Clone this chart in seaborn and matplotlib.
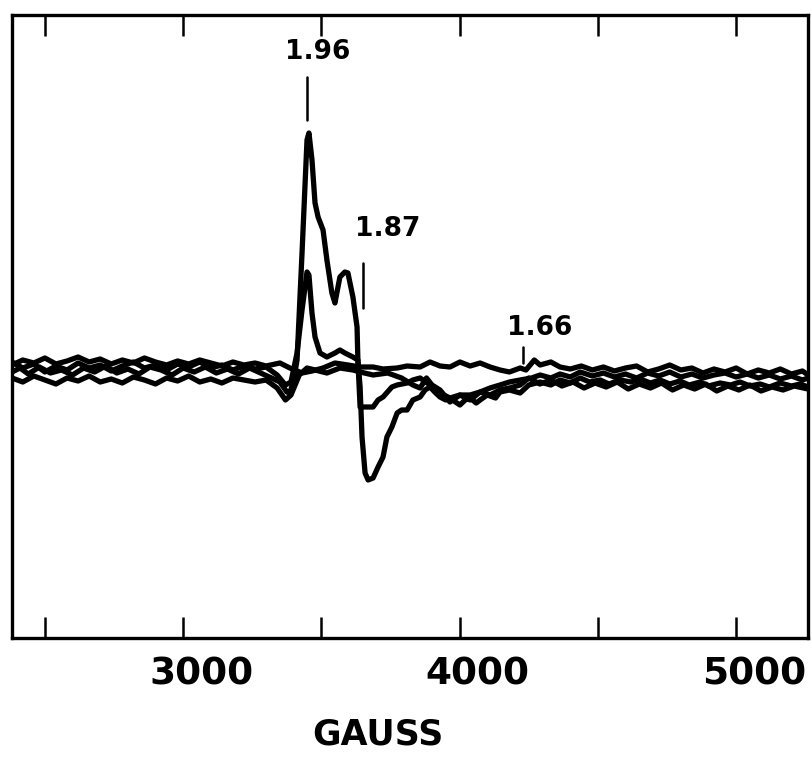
import matplotlib
matplotlib.use("Agg")
import matplotlib.pyplot as plt
import seaborn as sns
import pandas as pd

# ---- data (field in gauss, signal in arbitrary units, baseline = 0) ----
big_g = [2381, 2410, 2440, 2480, 2520, 2560, 2600, 2640, 2680, 2720, 2760, 2800, 2840, 2880,
         2920, 2960, 3000, 3040, 3080, 3120, 3160, 3200, 3240, 3280, 3320, 3350, 3375, 3386,
         3400, 3412, 3430, 3448, 3455, 3466, 3477, 3488, 3506, 3520, 3538, 3549, 3567, 3585,
         3596, 3614, 3629, 3632, 3640, 3647, 3658, 3669, 3687, 3705, 3723, 3737, 3755, 3774,
         3790, 3810, 3831, 3857, 3875, 3893, 3910, 3929, 3950, 3965, 3985, 4001, 4020, 4038,
         4060, 4074, 4100, 4130, 4146, 4180, 4219, 4250, 4291, 4330, 4363, 4400, 4436, 4470,
         4508, 4540, 4580, 4620, 4653, 4690, 4725, 4760, 4797, 4830, 4870, 4900, 4942, 4980,
         5014, 5050, 5087, 5120, 5159, 5200, 5232, 5260]
big_y = [-2, 2, -4, 3, -3, 0, -5, 2, -2, 4, -3, 1, -4, 3,
         0, -5, 2, -2, 3, -3, 1, -4, 2, -3, -8, -12, -22, -23,
         -10, 10, 117, 230, 237, 210, 167, 153, 140, 110, 77, 67, 93, 98,
         97, 73, 43, 10, -17, -67, -103, -110, -108, -97, -87, -67, -57, -43,
         -40, -40, -30, -27, -20, -17, -22, -27, -30, -28, -32, -35, -30, -28,
         -33, -30, -25, -28, -22, -20, -23, -15, -12, -15, -10, -13, -8, -12,
         -10, -14, -10, -12, -9, -13, -10, -14, -11, -15, -12, -16, -13, -15,
         -12, -16, -14, -17, -13, -16, -14, -17]

mid_g = [2381, 2420, 2460, 2500, 2540, 2580, 2620, 2660, 2700, 2740, 2780, 2820, 2860, 2900,
         2940, 2980, 3020, 3060, 3100, 3140, 3180, 3220, 3260, 3300, 3340, 3370, 3390, 3412,
         3430, 3448, 3455, 3466, 3477, 3495, 3520, 3549, 3567, 3585, 3614, 3632, 3640, 3658,
         3687, 3705, 3723, 3755, 3774, 3810, 3831, 3857, 3893, 3929, 3965, 4001, 4038, 4074,
         4110, 4146, 4180, 4219, 4260, 4291, 4330, 4363, 4400, 4436, 4480, 4520, 4560, 4600,
         4640, 4680, 4720, 4760, 4800, 4840, 4880, 4920, 4960, 5000, 5040, 5080, 5120, 5160,
         5200, 5240, 5260]
mid_y = [8, 2, 6, -2, 4, 0, 7, 2, 5, -1, 4, 8, 2, 5,
         0, 6, 3, 8, 2, 5, 0, 4, 1, 3, -5, -15, -12, 17,
         60, 98, 95, 57, 33, 17, 13, 17, 20, 17, 13, 10, -37, -37,
         -37, -30, -27, -17, -15, -13, -10, -8, -15, -23, -28, -25, -25, -22,
         -18, -15, -12, -10, -8, -5, -8, -4, -7, -2, -6, -3, -7, -4,
         -8, -3, -6, -2, -7, -4, -8, -5, -3, -7, -4, -8, -5, -9,
         -6, -10, -8]

flat_g = [2381, 2420, 2460, 2500, 2540, 2580, 2620, 2660, 2700, 2740, 2780, 2820, 2860, 2900,
          2940, 2980, 3020, 3060, 3100, 3140, 3180, 3220, 3260, 3300, 3350, 3386, 3430, 3466,
          3506, 3549, 3596, 3640, 3687, 3723, 3774, 3810, 3857, 3893, 3929, 3965, 4001, 4038,
          4074, 4110, 4146, 4180, 4219, 4240, 4270, 4291, 4330, 4363, 4400, 4440, 4480, 4520,
          4560, 4600, 4640, 4680, 4720, 4760, 4800, 4840, 4880, 4920, 4960, 5000, 5040, 5080,
          5120, 5160, 5200, 5240, 5260]
flat_y = [5, 10, 7, 12, 6, 9, 13, 8, 11, 6, 10, 7, 12, 8,
          5, 9, 6, 10, 7, 4, 8, 5, 7, 4, 7, 2, -3, -1,
          2, 7, 5, 3, 3, 1, 2, 4, 3, 8, 4, 3, 8, 4,
          7, 3, 0, -2, 2, 0, 10, 5, 8, 3, 1, 4, 0, 3,
          -1, 2, 4, -2, 1, 5, 0, 2, -3, 1, -2, 2, -4, 0,
          -3, 1, -4, -1, -5]

low_g = [2381, 2420, 2460, 2500, 2540, 2580, 2620, 2660, 2700, 2740, 2780, 2820, 2860, 2900,
         2940, 2980, 3020, 3060, 3100, 3140, 3180, 3220, 3260, 3300, 3340, 3370, 3390, 3420,
         3448, 3477, 3520, 3567, 3614, 3640, 3687, 3740, 3790, 3831, 3857, 3880, 3900, 3929,
         3965, 4001, 4038, 4074, 4110, 4146, 4180, 4219, 4250, 4290, 4330, 4370, 4410, 4450,
         4490, 4530, 4570, 4610, 4650, 4690, 4730, 4770, 4810, 4850, 4890, 4930, 4970, 5010,
         5050, 5090, 5130, 5170, 5210, 5260]
low_y = [-8, -12, -6, -10, -14, -8, -11, -6, -12, -9, -13, -7, -10, -14,
         -8, -11, -6, -12, -9, -13, -8, -10, -12, -10, -18, -30, -25, -5,
         2, 0, -3, 2, 0, -2, -5, -3, -8, -15, -18, -8, -15, -20,
         -32, -25, -30, -22, -25, -20, -18, -15, -8, -14, -10, -16, -12, -18,
         -13, -17, -12, -19, -14, -18, -13, -20, -15, -19, -14, -21, -16, -20,
         -15, -21, -17, -20, -16, -19]

tick_positions = [2500, 3000, 3500, 4000, 4500, 5000]
label_values = [3000, 4000, 5000]
label_texts = ["3000", "4000", "5000"]
label_offset_gauss = 65  # printed labels sit slightly right of their ticks
g_labels = ["1.96", "1.87", "1.66"]
g_label_pos = [(3485, 318), (3740, 141), (4291, 42)]
g_marker_x = [3447, 3650, 4229]
g_marker_y = [(250, 293), (62, 107), (7, 23)]

# ---- plotting ----
sns.set_theme(style="white")
plt.rcParams["font.family"] = ["DejaVu Sans"]

fig = plt.figure(figsize=(8.12, 7.59), dpi=100)
ax = fig.add_axes([12 / 812, (759 - 638) / 759, 796 / 812, 623 / 759])

traces = [(big_g, big_y), (mid_g, mid_y), (flat_g, flat_y), (low_g, low_y)]
for g, y in traces:
    df = pd.DataFrame({"gauss": g, "signal": y})
    sns.lineplot(data=df, x="gauss", y="signal", ax=ax, color="black",
                 linewidth=3.8, sort=False, estimator=None, solid_joinstyle="round",
                 solid_capstyle="round")

for (lab, (gx, gy)), mx, (y0, y1) in zip(zip(g_labels, g_label_pos), g_marker_x, g_marker_y):
    ax.plot([mx, mx], [y0, y1], color="black", linewidth=1.8)
    ax.text(gx, gy, lab, ha="center", va="center", fontsize=19, fontweight="bold",
            color="black")

ax.set_xlim(2381, 5260)
ax.set_ylim(-268, 355)
ax.set_xticks(tick_positions)
ax.set_xticklabels([""] * len(tick_positions))
ax.set_xticks([v + label_offset_gauss for v in label_values], minor=True)
ax.set_xticklabels(label_texts, minor=True, fontsize=27, fontweight="bold", color="black")
ax.set_yticks([])
ax.tick_params(axis="x", which="major", direction="in", length=15, width=1.8,
               top=True, bottom=True, colors="black")
ax.tick_params(axis="x", which="minor", direction="in", length=0, width=0,
               top=False, bottom=True, pad=13, colors="black")
ax.set_ylabel("")
ax.set_xlabel("GAUSS", fontsize=25, fontweight="bold", color="black")
ax.xaxis.set_label_coords(0.46, -0.128)
for s in ax.spines.values():
    s.set_visible(True)
    s.set_color("black")
    s.set_linewidth(2.4)
ax.grid(False)

fig.savefig("out.png", dpi=100, facecolor="white")
